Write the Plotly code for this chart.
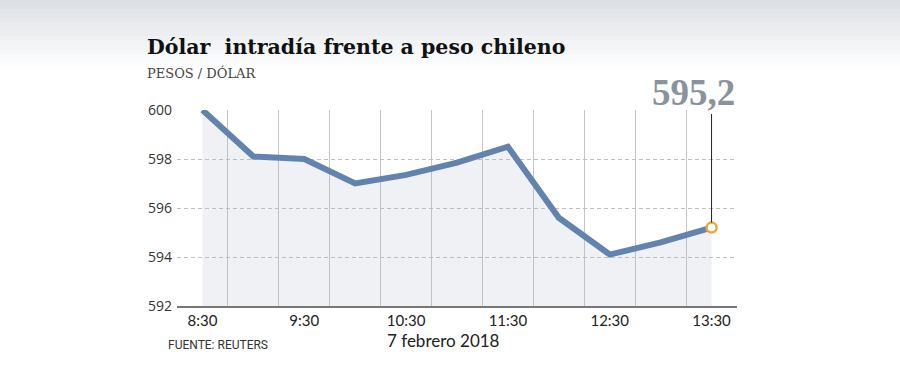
import plotly.graph_objects as go

# ---- data ----
hours = [8.5, 9.0, 9.5, 10.0, 10.5, 11.0, 11.5, 12.0, 12.5, 13.0, 13.5]
values = [600.0, 598.1, 598.0, 597.0, 597.35, 597.85, 598.5, 595.6, 594.1, 594.6, 595.2]
tick_vals = [8.5, 9.5, 10.5, 11.5, 12.5, 13.5]
tick_text = ["8:30", "9:30", "10:30", "11:30", "12:30", "13:30"]
y_ticks = [592, 594, 596, 598, 600]
last_label = "595,2"

W, H = 900, 372
L, R, T, B = 177, 163, 110, 66
PW, PH = W - L - R, H - T - B

def px(x):
    return (x - L) / PW

def py(y):
    return (H - B - y) / PH

fig = go.Figure()

fig.add_trace(go.Scatter(
    x=hours, y=values, mode="lines",
    line=dict(color="#6283ad", width=6),
    fill="tozeroy", fillcolor="rgba(175,185,200,0.2)",
    hoverinfo="skip", showlegend=False,
))
fig.add_trace(go.Scatter(
    x=[hours[-1]], y=[values[-1]], mode="markers",
    marker=dict(symbol="circle", size=10, color="white",
                line=dict(color="#f0a43a", width=2.5)),
    showlegend=False, hoverinfo="skip",
))

# gradient band at top
shapes = []
n = 16
top_h = 72
for i in range(n):
    t = i / (n - 1)
    c0 = (220, 224, 229)
    c = tuple(int(round(c0[k] + (255 - c0[k]) * t)) for k in range(3))
    y0 = i * top_h / n
    y1 = (i + 1) * top_h / n + 0.5
    shapes.append(dict(type="rect", xref="paper", yref="paper",
                       x0=px(0), x1=px(W), y0=py(y1), y1=py(y0),
                       fillcolor="rgb(%d,%d,%d)" % c, line=dict(width=0),
                       layer="below"))

annotations = [
    dict(text="<b>Dólar  intradía frente a peso chileno</b>", xref="paper", yref="paper",
         x=px(145), y=py(47), xanchor="left", yanchor="middle", showarrow=False,
         font=dict(family="DejaVu Serif", size=20.5, color="#111111")),
    dict(text="PESOS / DÓLAR", xref="paper", yref="paper",
         x=px(145), y=py(73), xanchor="left", yanchor="middle", showarrow=False,
         font=dict(family="DejaVu Serif", size=13, color="#444444")),
    dict(text="7 febrero 2018", xref="paper", yref="paper",
         x=px(443), y=py(340), xanchor="center", yanchor="middle", showarrow=False,
         font=dict(family="Lato", size=17, color="#222222")),
    dict(text="FUENTE: REUTERS", xref="paper", yref="paper",
         x=px(166), y=py(345), xanchor="left", yanchor="middle", showarrow=False,
         font=dict(family="Liberation Sans Narrow, Roboto", size=12, color="#333333")),
    dict(text="", x=hours[-1], y=values[-1], xref="x", yref="y",
         ax=hours[-1], ay=y_ticks[-1] - 0.1, axref="x", ayref="y",
         showarrow=True, arrowhead=0, arrowwidth=1, arrowcolor="#222222", standoff=5),
    dict(text="<b>" + last_label + "</b>", xref="paper", yref="paper",
         x=1.0, y=py(92), xanchor="right", yanchor="middle", showarrow=False,
         font=dict(family="Liberation Serif", size=37, color="#8a939c")),
]

fig.update_layout(
    width=W, height=H,
    margin=dict(l=L, r=R, t=T, b=B),
    paper_bgcolor="white", plot_bgcolor="rgba(0,0,0,0)",
    shapes=shapes, annotations=annotations,
    xaxis=dict(range=[8.25, 13.75], tickvals=tick_vals, ticktext=tick_text,
               showgrid=False, zeroline=False,
               showline=True, linecolor="#777777", linewidth=2,
               ticks="", tickfont=dict(family="Lato", size=15, color="#222222"),
               minor=dict(tick0=8.75, dtick=0.5, showgrid=True,
                          gridcolor="#c4c4c4", gridwidth=1, ticks="")),
    yaxis=dict(range=[592, 600], tickvals=y_ticks, showgrid=True,
               gridcolor="#c0c0c0", griddash="4px,3px", gridwidth=1,
               zeroline=False, showline=False, ticks="",
               tickfont=dict(family="Open Sans", size=14, color="#333333"),
               ticklabelstandoff=4),
)

fig.write_html("out.html", config={"displayModeBar": False},
               post_script="document.body.style.margin='0';document.body.style.overflow='hidden';")
